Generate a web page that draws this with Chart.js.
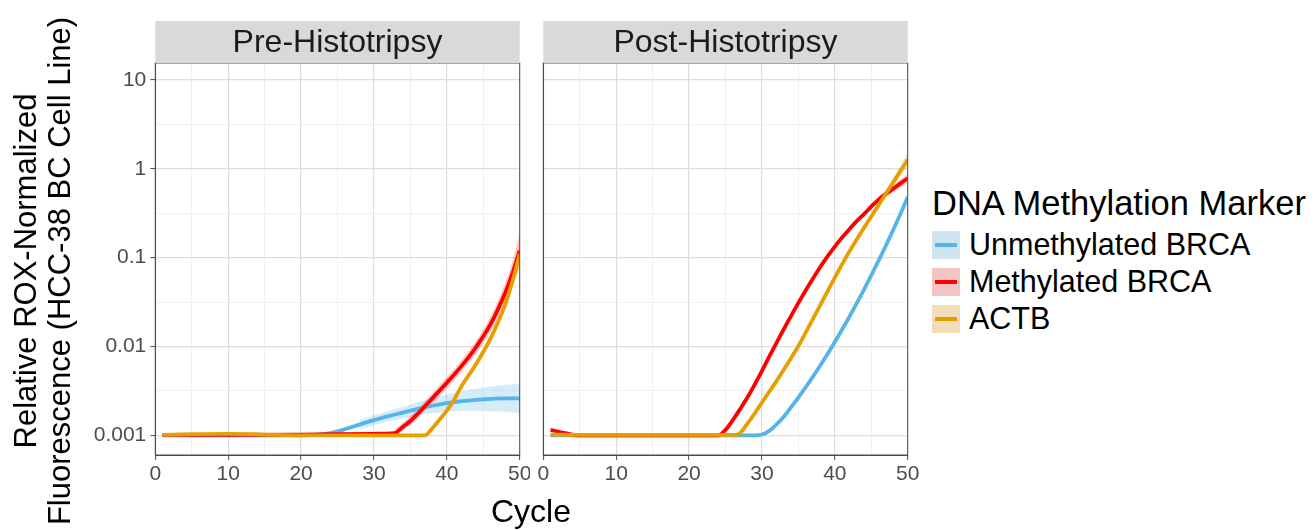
<!DOCTYPE html>
<html>
<head>
<meta charset="utf-8">
<title>qPCR curves</title>
<script src="https://cdn.jsdelivr.net/npm/chart.js@4.4.1/dist/chart.umd.min.js"></script>
<style>
  html, body { margin: 0; padding: 0; background: #fff; }
  body { width: 1316px; height: 530px; position: relative; overflow: hidden;
         font-family: "Liberation Sans", Arial, sans-serif; }
  .panel { position: absolute; top: 0; height: 530px; }
  #prePanel { left: 0; width: 530px; }
  #postPanel { left: 530px; width: 400px; }
  #xTitle { position: absolute; left: 431px; width: 200px; top: 492px; line-height: 38px;
            text-align: center; font-size: 32px; color: #000; }
  #legend { position: absolute; left: 932px; top: 181px; color: #000; }
  #legend .title { font-size: 34.5px; height: 45px; line-height: 44px; white-space: nowrap; }
  #legend .item { height: 37px; display: flex; align-items: center; font-size: 30.5px; white-space: nowrap; }
  #legend .key { width: 28px; height: 28px; margin-right: 9px; position: relative; }
  #legend .key span { position: absolute; left: 3px; right: 3px; top: 12px; height: 4px; }
</style>
</head>
<body>
<div class="panel" id="prePanel"><canvas id="preChart"></canvas></div>
<div class="panel" id="postPanel"><canvas id="postChart"></canvas></div>
<div id="xTitle">Cycle</div>
<div id="legend"></div>
<script>
// ---- data ----
const panelTitles = ['Pre-Histotripsy', 'Post-Histotripsy'];
const markers = ['Unmethylated BRCA', 'Methylated BRCA', 'ACTB'];
const legendTitle = 'DNA Methylation Marker';
const yTitleLines = ['Relative ROX-Normalized', 'Fluorescence (HCC-38 BC Cell Line)'];
const xTickValues = [0, 10, 20, 30, 40, 50];
const xMinorValues = [5, 15, 25, 35, 45];
const yTickValues = [0.001, 0.01, 0.1, 1, 10];
const yTickLabels = ['0.001', '0.01', '0.1', '1', '10'];

// Pre-Histotripsy
const preUnmethCycles = [1, 5, 10, 15, 20, 22, 24, 26, 28, 30, 32, 34, 36, 38, 40, 42, 44, 46, 48, 50];
const preUnmethValues = [0.00100, 0.00100, 0.00100, 0.00100, 0.00100, 0.00101, 0.00106, 0.00117, 0.00132, 0.00148,
                         0.00164, 0.00180, 0.00198, 0.00215, 0.00230, 0.00242, 0.00251, 0.00257, 0.00260, 0.00260];
const preUnmethBandCycles = [28, 30, 32, 34, 36, 38, 40, 42, 44, 46, 48, 50];
const preUnmethBandLow  = [0.00116, 0.00130, 0.00143, 0.00155, 0.00167, 0.00177, 0.00184, 0.00188, 0.00189, 0.00187, 0.00183, 0.00177];
const preUnmethBandHigh = [0.00150, 0.00168, 0.00188, 0.00209, 0.00235, 0.00261, 0.00288, 0.00312, 0.00333, 0.00353, 0.00370, 0.00383];

const preMethCycles = [1, 10, 20, 30, 32.8, 34, 35, 36, 38, 40, 42, 44, 46, 48, 49, 50];
const preMethValues = [0.00101, 0.00101, 0.00102, 0.00104, 0.00106, 0.00125, 0.00145, 0.00174, 0.0026, 0.0039,
                       0.0060, 0.0098, 0.0178, 0.040, 0.066, 0.120];
const preMethBandCycles = [33, 34, 36, 38, 40, 42, 44, 46, 48, 49, 50];
const preMethBandLow  = [0.00099, 0.00113, 0.00153, 0.00226, 0.00336, 0.00515, 0.0083, 0.0146, 0.0310, 0.048, 0.076];
const preMethBandHigh = [0.00118, 0.00139, 0.00199, 0.00300, 0.00454, 0.00700, 0.0116, 0.0217, 0.0520, 0.091, 0.190];

const preActbCycles = [1, 5, 10, 15, 20, 25, 30, 37, 38, 39, 40, 41, 42, 44, 46, 48, 49, 50];
const preActbValues = [0.00101, 0.00103, 0.00104, 0.00102, 0.00100, 0.00100, 0.00100, 0.00100, 0.00120, 0.00150,
                       0.00190, 0.0025, 0.00355, 0.0063, 0.0123, 0.0295, 0.054, 0.110];
const preActbBandCycles = [38, 40, 42, 44, 46, 48, 49, 50];
const preActbBandLow  = [0.00112, 0.00178, 0.00330, 0.0058, 0.0112, 0.0263, 0.047, 0.088];
const preActbBandHigh = [0.00129, 0.00203, 0.00382, 0.0068, 0.0135, 0.0331, 0.062, 0.138];

// Post-Histotripsy
const postUnmethCycles = [1, 5, 10, 15, 20, 25, 29, 30, 31, 32, 33, 34, 35, 36, 37, 38, 39, 40, 41, 42, 43, 44, 45, 46, 47, 48, 49, 50];
const postUnmethValues = [0.00100, 0.00100, 0.00100, 0.00100, 0.00100, 0.00100, 0.00100, 0.00102, 0.00112, 0.00133,
                          0.00162, 0.00207, 0.00266, 0.00347, 0.00457, 0.0061, 0.0082, 0.0112, 0.0155, 0.0216,
                          0.0305, 0.0437, 0.063, 0.0923, 0.136, 0.204, 0.309, 0.479];
const postUnmethBandCycles = [44, 46, 48, 50];
const postUnmethBandLow  = [0.0415, 0.087, 0.190, 0.43];
const postUnmethBandHigh = [0.0460, 0.098, 0.218, 0.54];

const postMethCycles = [1, 3, 5, 10, 15, 20, 24, 25, 26, 27, 28, 29, 30, 31, 32, 33, 34, 35, 36, 37, 38, 39, 40,
                        41, 42, 43, 44, 45, 46, 47, 48, 49, 50];
const postMethValues = [0.00115, 0.00106, 0.00100, 0.00100, 0.00100, 0.00100, 0.00100, 0.00115, 0.00148, 0.00197,
                        0.00266, 0.00372, 0.00531, 0.00767, 0.0110, 0.0157, 0.0221, 0.0309, 0.0427, 0.0582, 0.0785,
                        0.1035, 0.133, 0.168, 0.209, 0.257, 0.309, 0.375, 0.45, 0.52, 0.595, 0.685, 0.78];
const postMethBandCycles = [42, 44, 46, 48, 50];
const postMethBandLow  = [0.199, 0.292, 0.418, 0.545, 0.69];
const postMethBandHigh = [0.219, 0.328, 0.485, 0.65, 0.88];

const postActbCycles = [1, 5, 10, 15, 20, 25, 26.5, 27, 28, 29, 30, 31, 32, 33, 34, 35, 36, 37, 38, 39, 40,
                        41, 42, 43, 44, 45, 46, 47, 48, 49, 50];
const postActbValues = [0.00102, 0.00101, 0.00101, 0.00101, 0.00101, 0.00101, 0.00101, 0.00106, 0.00135, 0.00176,
                        0.00234, 0.00309, 0.00407, 0.0055, 0.00741, 0.0101, 0.0143, 0.0204, 0.0292, 0.0417, 0.0596,
                        0.0841, 0.1175, 0.160, 0.216, 0.290, 0.389, 0.522, 0.701, 0.942, 1.26];
const postActbBandCycles = [43, 45, 47, 48, 49, 50];
const postActbBandLow  = [0.153, 0.272, 0.478, 0.630, 0.82, 1.06];
const postActbBandHigh = [0.168, 0.310, 0.572, 0.785, 1.09, 1.52];

// ---- styling ----
const lineColors = ['#56B4E9', '#FF0000', '#E69F00'];
const bandColors = ['rgba(86,180,233,0.25)', 'rgba(255,0,0,0.22)', 'rgba(230,159,0,0.25)'];
const keyColors = ['#CFE4F0', '#F3C4C4', '#F1DDB9'];

Chart.defaults.font.family = "'Liberation Sans', Arial, sans-serif";

const toPoints = (xs, ys) => xs.map((x, i) => ({ x: x, y: ys[i] }));

function buildDatasets(series) {
  const sets = [];
  // ribbons first (fill '+1' -> matching low edge)
  series.forEach((s, i) => {
    const common = { borderWidth: 0, pointRadius: 0, cubicInterpolationMode: 'monotone', order: 5 - i };
    sets.push(Object.assign({ label: markers[i] + ' upper', data: toPoints(s.bandCycles, s.bandHigh),
                              backgroundColor: bandColors[i], fill: '+1' }, common));
    sets.push(Object.assign({ label: markers[i] + ' lower', data: toPoints(s.bandCycles, s.bandLow),
                              fill: false }, common));
  });
  series.forEach((s, i) => {
    sets.push({
      label: markers[i],
      data: toPoints(s.cycles, s.values),
      borderColor: lineColors[i],
      borderWidth: 3.8,
      pointRadius: 0,
      fill: false,
      cubicInterpolationMode: 'monotone',
      order: 2 - i,
      isMain: true
    });
  });
  return sets;
}

const preSeries = [
  { cycles: preUnmethCycles, values: preUnmethValues, bandCycles: preUnmethBandCycles, bandLow: preUnmethBandLow, bandHigh: preUnmethBandHigh },
  { cycles: preMethCycles, values: preMethValues, bandCycles: preMethBandCycles, bandLow: preMethBandLow, bandHigh: preMethBandHigh },
  { cycles: preActbCycles, values: preActbValues, bandCycles: preActbBandCycles, bandLow: preActbBandLow, bandHigh: preActbBandHigh }
];
const postSeries = [
  { cycles: postUnmethCycles, values: postUnmethValues, bandCycles: postUnmethBandCycles, bandLow: postUnmethBandLow, bandHigh: postUnmethBandHigh },
  { cycles: postMethCycles, values: postMethValues, bandCycles: postMethBandCycles, bandLow: postMethBandLow, bandHigh: postMethBandHigh },
  { cycles: postActbCycles, values: postActbValues, bandCycles: postActbBandCycles, bandLow: postActbBandLow, bandHigh: postActbBandHigh }
];

// strip header, panel border and (left panel only) the y title
const panelFrame = {
  id: 'panelFrame',
  afterDraw(chart, args, opts) {
    const { ctx, chartArea: a } = chart;
    ctx.save();
    ctx.strokeStyle = '#4D4D4D';
    ctx.lineWidth = 1;
    ctx.strokeRect(a.left, a.top, a.right - a.left, a.bottom - a.top);
    ctx.fillStyle = '#D9D9D9';
    ctx.fillRect(a.left, 21, a.right - a.left, a.top - 21);
    ctx.fillStyle = '#1A1A1A';
    ctx.font = "32px 'Liberation Sans', Arial, sans-serif";
    ctx.textAlign = 'center';
    ctx.textBaseline = 'middle';
    ctx.fillText(opts.title, (a.left + a.right) / 2, 43);
    if (opts.yTitle) {
      ctx.fillStyle = '#000';
      ctx.font = "31px 'Liberation Sans', Arial, sans-serif";
      ctx.translate(27, 271);
      ctx.rotate(-Math.PI / 2);
      opts.yTitle.forEach((line, i) => ctx.fillText(line, 0, i * 34));
    }
    ctx.restore();
  }
};

const majorGrid = '#DDDDDD';
const minorGrid = '#ECECEC';

function makeChart(canvasId, title, series, isFirst) {
  return new Chart(document.getElementById(canvasId), {
    type: 'line',
    data: { datasets: buildDatasets(series) },
    plugins: [panelFrame],
    options: {
      responsive: true,
      maintainAspectRatio: false,
      animation: false,
      events: [],
      layout: { padding: { top: 63, bottom: 0, left: 0, right: isFirst ? 10.3 : 22.3 } },
      plugins: {
        legend: { display: false },
        tooltip: { enabled: false },
        panelFrame: { title: title, yTitle: isFirst ? yTitleLines : null }
      },
      scales: {
        x: {
          type: 'linear',
          min: 0,
          max: 50,
          afterBuildTicks: axis => {
            axis.ticks = xTickValues.concat(xMinorValues).sort((p, q) => p - q).map(v => ({ value: v }));
          },
          afterFit: s => { s.height = 75; s.paddingLeft = 0; s.paddingRight = 0; },
          ticks: {
            autoSkip: false,
            maxRotation: 0,
            padding: 2,
            color: '#4D4D4D',
            font: { size: 21 },
            callback: v => xTickValues.includes(v) ? String(v) : ''
          },
          grid: {
            color: c => (c.tick && xTickValues.includes(c.tick.value)) ? majorGrid : minorGrid,
            lineWidth: c => (c.tick && xTickValues.includes(c.tick.value)) ? 1.2 : 0.8,
            tickLength: 5,
            tickColor: c => (c.tick && xTickValues.includes(c.tick.value)) ? '#4D4D4D' : 'rgba(0,0,0,0)',
            tickWidth: 1
          },
          border: { display: true, color: '#4D4D4D', width: 1 }
        },
        y: {
          type: 'logarithmic',
          min: 0.00063,
          max: 15.5,
          afterBuildTicks: axis => {
            const vals = [];
            yTickValues.forEach(v => { vals.push(v); if (v < 10) vals.push(v * Math.sqrt(10)); });
            axis.ticks = vals.map(v => ({ value: v }));
          },
          afterFit: s => { s.width = isFirst ? 155.3 : 13.3; s.paddingTop = 0; s.paddingBottom = 0; },
          ticks: {
            display: isFirst,
            autoSkip: false,
            padding: 4,
            color: '#4D4D4D',
            font: { size: 21 },
            callback: v => { const k = yTickValues.indexOf(v); return k >= 0 ? yTickLabels[k] : ''; }
          },
          grid: {
            color: c => (c.tick && yTickValues.includes(c.tick.value)) ? majorGrid : minorGrid,
            lineWidth: c => (c.tick && yTickValues.includes(c.tick.value)) ? 1.2 : 0.8,
            drawTicks: isFirst,
            tickLength: 5,
            tickColor: c => (c.tick && yTickValues.includes(c.tick.value)) ? '#4D4D4D' : 'rgba(0,0,0,0)',
            tickWidth: 1
          },
          border: { display: true, color: '#4D4D4D', width: 1 }
        }
      }
    }
  });
}

const preChart = makeChart('preChart', panelTitles[0], preSeries, true);
const postChart = makeChart('postChart', panelTitles[1], postSeries, false);

// html legend built from the chart's own legend items, in marker order
const legendBox = document.getElementById('legend');
const head = document.createElement('div');
head.className = 'title';
head.textContent = legendTitle;
legendBox.appendChild(head);
Chart.defaults.plugins.legend.labels.generateLabels(postChart)
  .filter(item => postChart.data.datasets[item.datasetIndex].isMain)
  .sort((p, q) => markers.indexOf(p.text) - markers.indexOf(q.text))
  .forEach(item => {
    const k = markers.indexOf(item.text);
    const row = document.createElement('div');
    row.className = 'item';
    const key = document.createElement('div');
    key.className = 'key';
    key.style.background = keyColors[k];
    const bar = document.createElement('span');
    bar.style.background = item.strokeStyle;
    key.appendChild(bar);
    row.appendChild(key);
    row.appendChild(document.createTextNode(item.text));
    legendBox.appendChild(row);
  });
</script>
</body>
</html>
